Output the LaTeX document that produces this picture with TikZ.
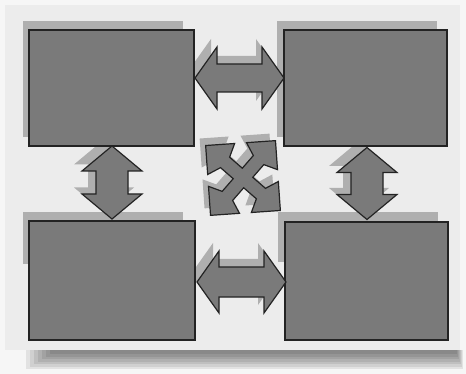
\documentclass[tikz,border=0pt]{standalone}
\definecolor{pagebg}{RGB}{246,246,246}
\definecolor{cardbg}{RGB}{236,236,236}
\definecolor{boxgray}{RGB}{122,122,122}
\definecolor{shadowgray}{RGB}{175,175,175}
\definecolor{outline}{RGB}{35,35,35}
\tikzset{
  boxnode/.style={draw=outline, fill=boxgray, line width=1.2pt, anchor=north west, inner sep=0pt, outer sep=0pt},
  shapefill/.style={draw=outline, fill=boxgray, line width=1.2pt, line join=miter},
  shadowfill/.style={fill=shadowgray},
}
% #1 style, #2 cx, #3 cy, #4 rotate, #5 half length, #6 head length, #7 shaft half width, #8 head half width
\newcommand\mydblarrow[8]{%
  \path[#1, shift={(#2,#3)}, rotate=#4]
    (-#5,0) -- (-#5+#6,-#8) -- (-#5+#6,-#7) -- (#5-#6,-#7) -- (#5-#6,-#8) -- (#5,0)
    -- (#5-#6,#8) -- (#5-#6,#7) -- (-#5+#6,#7) -- (-#5+#6,#8) -- cycle;}
% #1 style, #2 cx, #3 cy, #4 rotate, #5 half size
\newcommand\myxarrow[5]{%
  \path[#1, shift={(#2,#3)}, rotate=#4, scale=#5]
    (1,1) -- (0.17,1) -- (0.34,0.62) -- (0,0.28) -- (-0.34,0.62) -- (-0.17,1)
    -- (-1,1) -- (-1,0.17) -- (-0.62,0.34) -- (-0.28,0) -- (-0.62,-0.34) -- (-1,-0.17)
    -- (-1,-1) -- (-0.17,-1) -- (-0.34,-0.62) -- (0,-0.28) -- (0.34,-0.62) -- (0.17,-1)
    -- (1,-1) -- (1,-0.17) -- (0.62,-0.34) -- (0.28,0) -- (0.62,0.34) -- (1,0.17) -- cycle;}
\begin{document}
\begin{tikzpicture}[x=1pt,y=-1pt]
\useasboundingbox (0,0) rectangle (466,374);
\fill[pagebg] (0,0) rectangle (466,374);
% card shadow
\foreach \i in {0,...,6} {
  \fill[black, opacity=0.08] (26+\i*4,350) rectangle (463-\i,369-\i*2.5);
}
\fill[cardbg] (5,5) rectangle (460,350);
% box shadows
\fill[shadowgray] (23,21) rectangle (183,137);
\fill[shadowgray] (277,21) rectangle (437,137);
\fill[shadowgray] (23,212) rectangle (183,264);
\fill[shadowgray] (278,212) rectangle (438,262);
% arrow shadows
\mydblarrow{shadowfill}{233.5}{70}{0}{44.5}{22}{14}{31}
\mydblarrow{shadowfill}{235.5}{274}{0}{44.5}{22}{15}{31}
\mydblarrow{shadowfill}{104}{176}{90}{36.5}{25}{16}{30}
\mydblarrow{shadowfill}{359}{177}{90}{36}{25}{16}{30}
\myxarrow{shadowfill}{237}{171}{4}{35}
% boxes
\node[boxnode, minimum width=165pt, minimum height=116pt] (tl) at (29,30) {};
\node[boxnode, minimum width=163pt, minimum height=116pt] (tr) at (284,30) {};
\node[boxnode, minimum width=166pt, minimum height=119pt] (bl) at (29,221) {};
\node[boxnode, minimum width=163pt, minimum height=118pt] (br) at (285,222) {};
% arrows
\mydblarrow{shapefill}{239.5}{78}{0}{44.5}{22}{14}{31}
\mydblarrow{shapefill}{241.5}{282}{0}{44.5}{22}{15}{31}
\mydblarrow{shapefill}{112}{182.5}{90}{36.5}{25}{16}{30}
\mydblarrow{shapefill}{367}{183.5}{90}{36}{25}{16}{30}
\myxarrow{shapefill}{243}{178}{4}{35}
\end{tikzpicture}
\end{document}
